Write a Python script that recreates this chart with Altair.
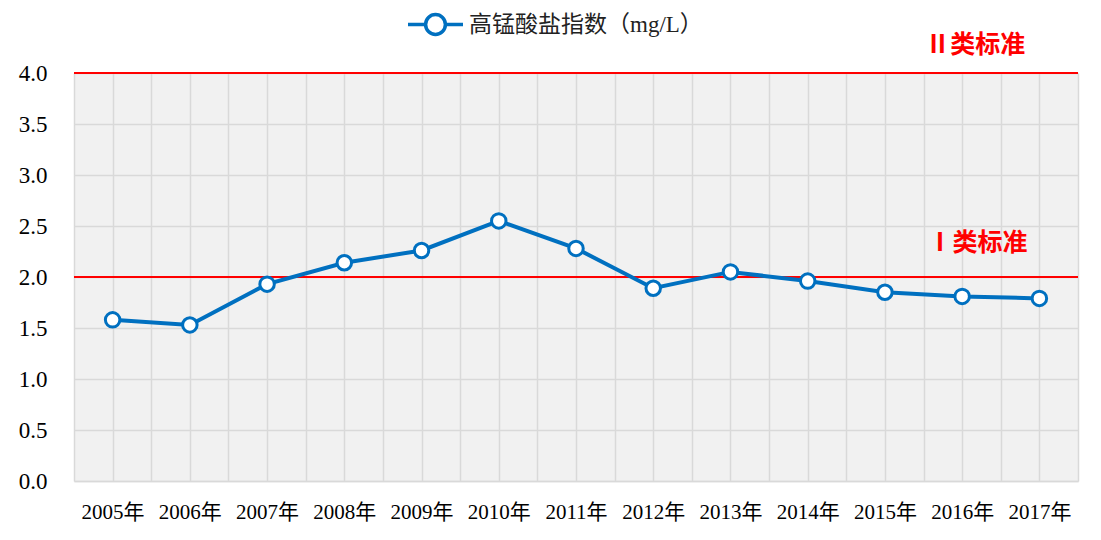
import altair as alt
import pandas as pd

years = [2005, 2006, 2007, 2008, 2009, 2010, 2011, 2012, 2013, 2014, 2015, 2016, 2017]
values = [1.58, 1.53, 1.93, 2.14, 2.26, 2.55, 2.28, 1.89, 2.05, 1.96, 1.85, 1.81, 1.79]
series_name = "高锰酸盐指数（mg/L）"

std_values = [4.0, 2.0]
std_labels = ["Ⅱ类标准", "Ⅰ类标准"]
std_label_x = [2016.17, 2016.2]
std_label_y = [4.27, 2.33]

y_ticks = [0.0, 0.5, 1.0, 1.5, 2.0, 2.5, 3.0, 3.5, 4.0]
half_ticks = [y + 0.5 for y in range(2004, 2018)]

df = pd.DataFrame({"year": years, "value": values, "series": [series_name] * len(years)})
std_df = pd.DataFrame({"std": std_values})
lab_df = pd.DataFrame({"x": std_label_x, "y": std_label_y, "label": std_labels})

BLUE = "#0070C0"
GRID = "#d9d9d9"
xscale = alt.Scale(domain=[2004.5, 2017.5], nice=False, zero=False)
yscale = alt.Scale(domain=[0, 4], nice=False)

yaxis = alt.Axis(values=y_ticks, format=".1f", grid=True, gridColor=GRID,
                 gridWidth=1.5, domain=False, ticks=False, labelFontSize=23,
                 labelPadding=27, labelColor="#000", labelFont="Liberation Serif")

legend_path = "M-1,0H-0.36M0.36,0H1M0.36,0A0.36,0.36,0,1,1,-0.36,0A0.36,0.36,0,1,1,0.36,0Z"

# half-year grid (own axis, no labels)
halfgrid = alt.Chart(std_df).mark_rule(opacity=0).encode(
    x=alt.X("std:Q", scale=xscale, title=None,
            axis=alt.Axis(orient="bottom", values=half_ticks, grid=True, gridColor=GRID,
                          gridWidth=1.5, labels=False, ticks=False, domain=True,
                          domainColor=GRID, domainWidth=1.5)),
    y=alt.Y("std:Q", scale=yscale, title=None, axis=yaxis),
)

rules = alt.Chart(std_df).mark_rule(color="#ff0000", strokeWidth=2).encode(
    y=alt.Y("std:Q", scale=yscale, title=None, axis=yaxis)
)

line = alt.Chart(df).mark_line(strokeWidth=4).encode(
    x=alt.X("year:Q", scale=xscale, title=None,
            axis=alt.Axis(orient="bottom", values=years, format="d", grid=True,
                          gridColor=GRID, gridWidth=1.5,
                          domain=False, ticks=False, labelFontSize=21, labelPadding=20,
                          labelOverlap=False, labelColor="#000",
                          labelFont="Liberation Serif, Noto Sans CJK SC",
                          labelExpr="datum.label + '年'")),
    y=alt.Y("value:Q", scale=yscale, title=None, axis=yaxis),
    color=alt.Color("series:N", scale=alt.Scale(range=[BLUE]), title=None,
                    legend=alt.Legend(orient="none", legendX=332, legendY=-78,
                                      symbolType=legend_path, symbolSize=3025,
                                      symbolStrokeWidth=3.5, symbolFillColor="white",
                                      symbolStrokeColor=BLUE, labelFontSize=23,
                                      labelLimit=600,
                                      labelFont="Liberation Serif, Noto Sans CJK SC",
                                      labelColor="#222", labelOffset=4, padding=0)),
)

points = alt.Chart(df).mark_point(filled=True, fill="white", stroke=BLUE, strokeWidth=3,
                                  size=210, opacity=1).encode(
    x=alt.X("year:Q", scale=xscale, axis=None),
    y=alt.Y("value:Q", scale=yscale, title=None, axis=yaxis),
)

labels = alt.Chart(lab_df).mark_text(color="#ff0000", fontSize=25, fontWeight="bold",
                                     font="Noto Sans CJK SC", align="center",
                                     baseline="middle").encode(
    x=alt.X("x:Q", scale=xscale, axis=None),
    y=alt.Y("y:Q", scale=yscale, title=None, axis=yaxis),
    text="label:N",
)

chart = alt.layer(halfgrid, rules, line, points, labels).resolve_axis(x="independent").properties(
    width=1004, height=408,
    view=alt.ViewBackground(fill="#f1f1f1", stroke=None),
    autosize=alt.AutoSizeParams(type="none"),
    padding={"left": 66, "top": 65, "right": 15, "bottom": 45},
).configure_view(fill="#f1f1f1", stroke=None).configure(background="white")

chart.save("out.html", embed_options={"renderer": "svg", "actions": False})
